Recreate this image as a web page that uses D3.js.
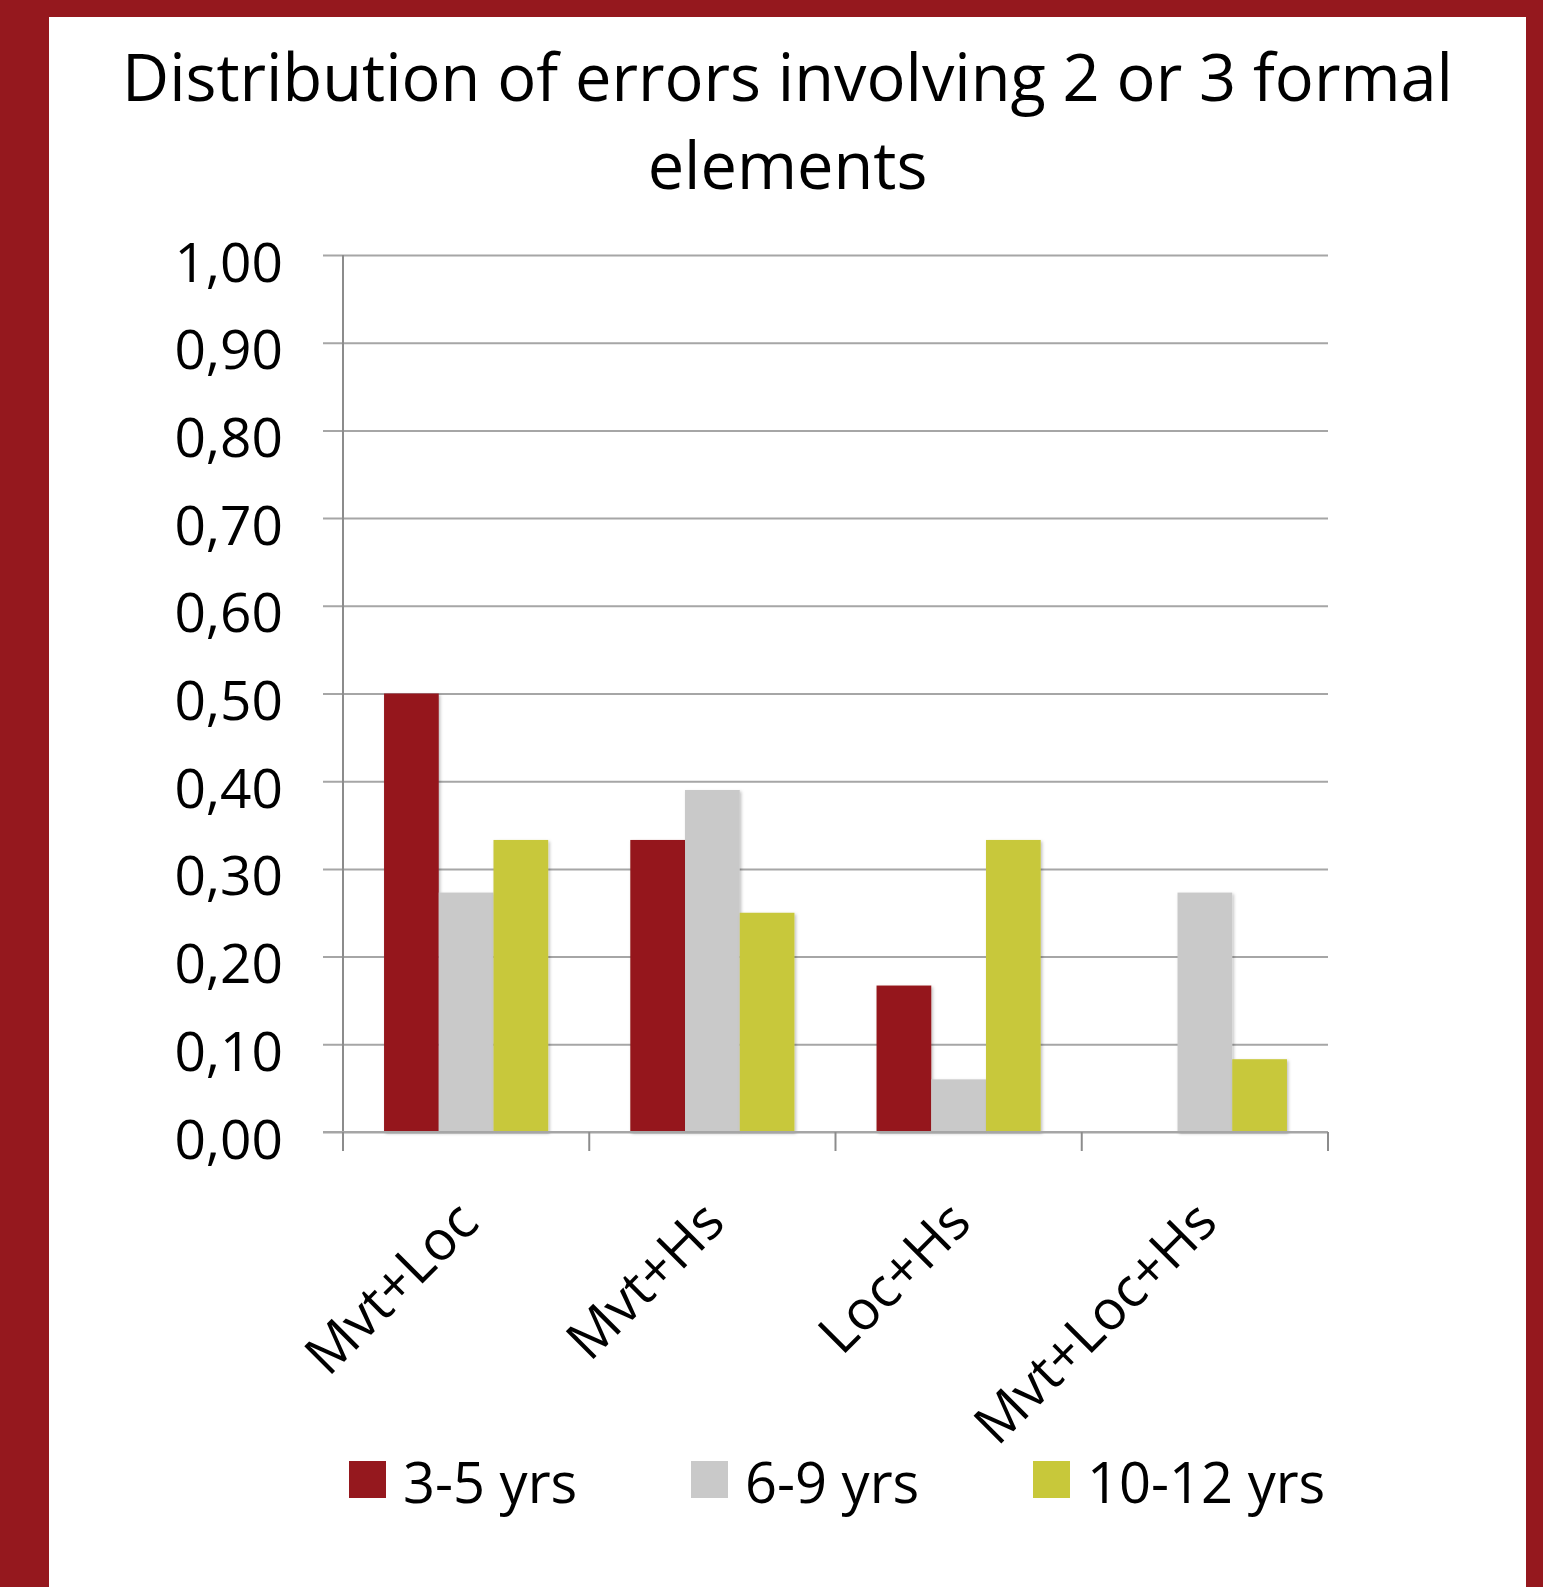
<!DOCTYPE html>
<html>
<head>
<meta charset="utf-8">
<script src="https://cdn.jsdelivr.net/npm/d3@7"></script>
<style>
  html, body { margin: 0; padding: 0; background: #95181e; }
  svg { display: block; }
  text { font-family: "Open Sans", "Noto Sans", sans-serif; fill: #000; }
</style>
</head>
<body>
<svg id="chart" width="1543" height="1587"></svg>
<script>
// Error combinations on the x axis
const categories = ["Mvt+Loc", "Mvt+Hs", "Loc+Hs", "Mvt+Loc+Hs"];
// Age groups (one bar per group inside each category)
const seriesNames = ["3-5 yrs", "6-9 yrs", "10-12 yrs"];
// Proportion of errors per category, one array per age group
const values35 = [0.50, 0.333, 0.167, 0.0];
const values69 = [0.273, 0.39, 0.06, 0.273];
const values1012 = [0.333, 0.25, 0.333, 0.083];
const yTicks = [0, 0.1, 0.2, 0.3, 0.4, 0.5, 0.6, 0.7, 0.8, 0.9, 1.0];
const titleLines = ["Distribution of errors involving 2 or 3 formal", "elements"];

const seriesValues = [values35, values69, values1012];
const colors = ["#95181e", "#c9c9c9", "#c8c83a"];

const svg = d3.select("#chart");

// white card inside the dark red frame
svg.append("rect").attr("x", 49).attr("y", 17).attr("width", 1477).attr("height", 1600).attr("fill", "#fff");

const defs = svg.append("defs");
defs.append("filter").attr("id", "barShadow")
  .attr("x", "-10%").attr("y", "-10%").attr("width", "130%").attr("height", "130%")
  .append("feDropShadow")
  .attr("dx", 1.5).attr("dy", 1.5).attr("stdDeviation", 1.5)
  .attr("flood-color", "#000").attr("flood-opacity", 0.25);

// title
const title = svg.append("g");
const titleY = [101, 189];
const titleWidth = 1331;
titleLines.forEach((t, i) => {
  const el = title.append("text")
    .attr("x", 787.5).attr("y", titleY[i])
    .attr("text-anchor", "middle")
    .attr("font-size", 60)
    .text(t);
  const w = el.node().getComputedTextLength();
  if (i === 0 && w > 0) el.attr("font-size", 60 * titleWidth / w);
});
// keep both title lines at the same size
const tSize = title.select("text").attr("font-size");
title.selectAll("text").attr("font-size", tSize);

const plotLeft = 343, plotRight = 1328, plotTop = 255, plotBottom = 1132;

const y = d3.scaleLinear().domain([0, 1]).range([plotBottom, plotTop]);
const x = d3.scaleBand().domain(categories).range([plotLeft, plotRight]).padding(0);
const xs = d3.scaleBand().domain(seriesNames).range([0, x.bandwidth()])
  .paddingInner(0).paddingOuter(0.75);

// gridlines + y labels
const yAxis = d3.axisLeft(y)
  .tickValues(yTicks)
  .tickSize(-(plotRight - (plotLeft - 20)))
  .tickPadding(40)
  .tickFormat(d => d3.format(".2f")(d).replace(".", ","));

const gy = svg.append("g")
  .attr("transform", `translate(${plotLeft - 20},0)`)
  .call(yAxis);
gy.select(".domain").remove();
gy.selectAll(".tick line").attr("stroke", "#a6a6a6").attr("stroke-width", 2);
gy.selectAll(".tick text")
  .attr("dy", null).attr("y", 26)
  .attr("font-size", 55)
  .attr("font-family", "'Open Sans', sans-serif")
  .attr("fill", "#000");

// bars
const groups = svg.append("g").selectAll("g")
  .data(categories)
  .join("g")
  .attr("transform", d => `translate(${x(d)},0)`);

groups.selectAll("rect")
  .data((c, ci) => seriesNames.map((s, si) => ({ s, si, v: seriesValues[si][ci] })))
  .join("rect")
  .filter(d => d.v > 0)
  .attr("x", d => xs(d.s))
  .attr("width", xs.bandwidth())
  .attr("y", d => y(d.v))
  .attr("height", d => y(0) - y(d.v))
  .attr("fill", d => colors[d.si])
  .attr("filter", "url(#barShadow)");

// y axis line
svg.append("line")
  .attr("x1", plotLeft).attr("x2", plotLeft)
  .attr("y1", plotTop).attr("y2", plotBottom + 19)
  .attr("stroke", "#8c8c8c").attr("stroke-width", 2);

// x axis baseline + boundary ticks
svg.append("line")
  .attr("x1", plotLeft - 20).attr("x2", plotRight)
  .attr("y1", y(0)).attr("y2", y(0))
  .attr("stroke", "#a6a6a6").attr("stroke-width", 2);

const boundaries = categories.map(c => x(c)).concat([x.range()[1]]);
svg.append("g").selectAll("line")
  .data(boundaries)
  .join("line")
  .attr("x1", d => d).attr("x2", d => d)
  .attr("y1", y(0)).attr("y2", y(0) + 19)
  .attr("stroke", "#8c8c8c").attr("stroke-width", 2);

// rotated category labels
svg.append("g").selectAll("text")
  .data(categories)
  .join("text")
  .attr("transform", d => `translate(${x(d) + x.bandwidth() / 2 + 15},${y(0) + 93}) rotate(-45)`)
  .attr("text-anchor", "end")
  .attr("font-size", 55)
  .text(d => d);

// legend
const legendX = [349, 691, 1033];
const legend = svg.append("g").selectAll("g")
  .data(seriesNames)
  .join("g")
  .attr("transform", (d, i) => `translate(${legendX[i]},1461)`);
legend.append("rect")
  .attr("width", 37).attr("height", 37)
  .attr("fill", (d, i) => colors[i]);
legend.append("text")
  .attr("x", 54).attr("y", 42)
  .attr("font-size", 56)
  .text(d => d);
</script>
</body>
</html>
